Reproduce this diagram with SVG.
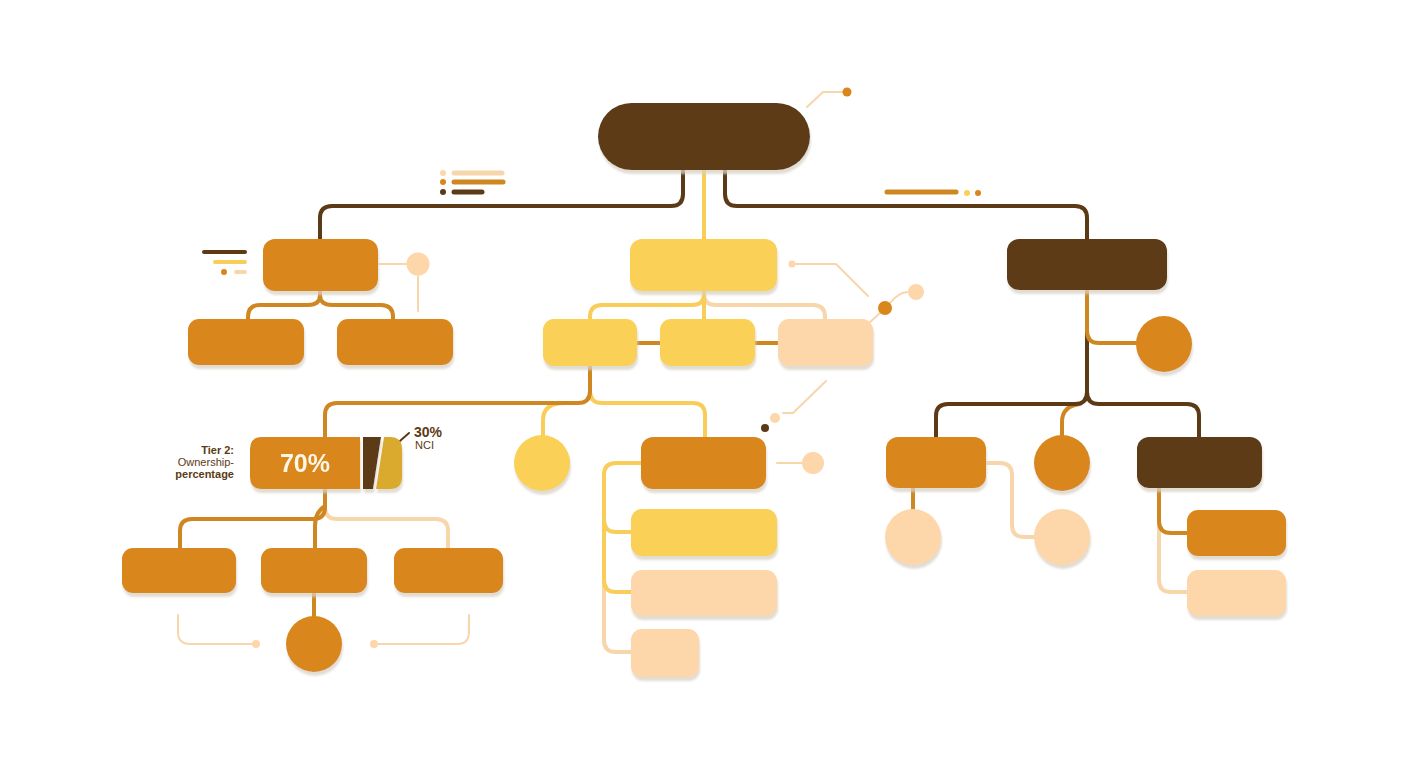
<svg xmlns="http://www.w3.org/2000/svg" width="1408" height="768" viewBox="0 0 1408 768">
<defs>
<filter id="sh" x="-20%" y="-20%" width="140%" height="150%">
<feDropShadow dx="1" dy="4" stdDeviation="0.8" flood-color="#D8D1C4" flood-opacity="0.75"/>
</filter>
<style>
.dk{fill:#5C3A16}.or{fill:#D9861A}.ye{fill:#FBD056}.pe{fill:#FDD6AA}.go{fill:#DAAA2E}
.n{filter:url(#sh)}
.c{fill:none;stroke-width:4;stroke-linecap:round;stroke-linejoin:round}
.t{fill:none;stroke-width:2;stroke-linecap:round;stroke-linejoin:round}
.sdk{stroke:#5C3A16}.sor{stroke:#CF8722}.sye{stroke:#F8CD5A}.spe{stroke:#F8D6AC}
.lg{stroke-width:5;stroke-linecap:round;fill:none}
text{font-family:"Liberation Sans",Arial,sans-serif;fill:#5C3A16}
</style>
</defs>
<rect width="1408" height="768" fill="#FFFFFF"/>

<g id="connectors">
<path class="c sdk" d="M683,168 V194 Q683,206 671,206 H332 Q320,206 320,218 V240"/>
<path class="c sdk" d="M725,168 V194 Q725,206 737,206 H1075 Q1087,206 1087,218 V240"/>
<path class="c sye" d="M704,170 V240"/>
<path class="c sor" d="M320,290 V295 Q320,305 308,305 H260 Q248,305 248,317 V320"/>
<path class="c sor" d="M320,290 V295 Q320,305 332,305 H381 Q393,305 393,317 V320"/>
<path class="c spe" d="M704,290 V294 Q704,305 716,305 H813 Q825,305 825,317 V320"/>
<path class="c sye" d="M704,290 V294 Q704,305 692,305 H602 Q590,305 590,317 V320"/>
<path class="c sye" d="M704,290 V320"/>
<path class="c sor" d="M636,343 H661 M754,343 H779"/>
<path class="c sye" d="M565,403 Q543,403 543,420 V436"/>
<path class="c sye" d="M590,366 V391 Q590,403 602,403 H693 Q705,403 705,415 V438"/>
<path class="c sor" d="M590,366 V391 Q590,403 578,403 H337 Q325,403 325,415 V438"/>
<path class="c spe" d="M325,489 V507 Q325,519 337,519 H436 Q448,519 448,531 V549"/>
<path class="c sor" d="M325,489 V507 Q325,519 313,519 H192 Q180,519 180,531 V549"/>
<path class="c sor" d="M325,489 V506 Q315,512 315,526 V549"/>
<path class="c sor" d="M314,593 V617"/>
<path class="t spe" d="M178,615 V632 Q178,644 190,644 H253"/>
<path class="t spe" d="M377,644 H457 Q469,644 469,632 V615"/>
<path class="c spe" d="M604,580 V640 Q604,652 616,652 H632"/>
<path class="c sye" d="M642,463 H616 Q604,463 604,475 V520 Q604,532 616,532 H632"/>
<path class="c sye" d="M604,518 V580 Q604,592 616,592 H632"/>
<path class="c sor" d="M1080,404 Q1062,406 1062,422 V436"/>
<path class="c sdk" d="M1087,330 V392 Q1087,404 1075,404 H948 Q936,404 936,416 V438"/>
<path class="c sdk" d="M1087,392 Q1087,404 1099,404 H1187 Q1199,404 1199,416 V438"/>
<path class="c sor" d="M1087,290 V331 Q1087,343 1099,343 H1137"/>
<path class="c sor" d="M913,488 V510"/>
<path class="c spe" d="M986,463 H1000 Q1012,463 1012,475 V525 Q1012,537 1024,537 H1035"/>
<path class="c spe" d="M1159,521 V580 Q1159,592 1171,592 H1188"/>
<path class="c sor" d="M1159,488 V521 Q1159,533 1171,533 H1188"/>
<path class="t spe" d="M807,107 L823,92 H843"/>
<path class="t spe" d="M378,264 H407 M418,276 V311"/>
<path class="t spe" d="M795,264 H836 L868,296"/>
<path class="t spe" d="M869,323 L880,313 M890,303 Q898,293 907,292"/>
<path class="t spe" d="M783,413 H793 L826,381"/>
<path class="t spe" d="M777,463 H802"/>
<path class="t sdk" d="M409,433 L392,448"/>
</g>

<g id="decor">
<circle cx="847" cy="92" r="4.5" class="or"/>
<circle cx="443" cy="173" r="3" class="pe"/>
<circle cx="443" cy="182" r="3" class="or"/>
<circle cx="443" cy="192" r="3" class="dk"/>
<path class="lg spe" d="M454,173 H502"/>
<path class="lg sor" d="M454,182 H503"/>
<path class="lg sdk" d="M454,192 H482"/>
<path class="lg sor" d="M887,192 H956"/>
<circle cx="967" cy="193" r="3" class="ye"/>
<circle cx="978" cy="193" r="3" class="or"/>
<path class="lg sdk" d="M204,252 H245" style="stroke-width:4"/>
<path class="lg sye" d="M215,262 H245" style="stroke-width:4"/>
<circle cx="224" cy="272" r="3" class="or"/>
<path class="lg spe" d="M236,272 H245" style="stroke-width:4"/>
<circle cx="418" cy="264" r="11.5" class="pe"/>
<circle cx="792" cy="264" r="3.5" class="pe"/>
<circle cx="885" cy="308" r="7" class="or"/>
<circle cx="916" cy="292" r="8" class="pe"/>
<circle cx="775" cy="418" r="5" class="pe"/>
<circle cx="765" cy="428" r="4" class="dk"/>
<circle cx="813" cy="463" r="11" class="pe"/>
<circle cx="256" cy="644" r="4" class="pe"/>
<circle cx="374" cy="644" r="4" class="pe"/>
</g>

<g id="root" class="n"><rect x="598" y="103" width="212" height="67" rx="33.5" class="dk"/></g>

<g id="l1-left" class="n"><rect x="263" y="239" width="115" height="52" rx="12" class="or"/></g>
<g id="l1-mid" class="n"><rect x="630" y="239" width="147" height="52" rx="12" class="ye"/></g>
<g id="l1-right" class="n"><rect x="1007" y="239" width="160" height="51" rx="12" class="dk"/></g>

<g id="l2-a" class="n"><rect x="188" y="319" width="116" height="46" rx="11" class="or"/></g>
<g id="l2-b" class="n"><rect x="337" y="319" width="116" height="46" rx="11" class="or"/></g>
<g id="l2-c" class="n"><rect x="543" y="319" width="94" height="47" rx="11" class="ye"/></g>
<g id="l2-d" class="n"><rect x="660" y="319" width="95" height="47" rx="11" class="ye"/></g>
<g id="l2-e" class="n"><rect x="778" y="319" width="95" height="47" rx="11" class="pe"/></g>
<g id="l2-circle" class="n"><circle cx="1164" cy="344" r="28" class="or"/></g>

<g id="tier2" class="n">
<path class="or" d="M262,437 H360 V489 H262 Q250,489 250,477 V449 Q250,437 262,437 Z"/>
<path class="dk" d="M363,437 H381 L373,489 H363 Z"/>
<path class="go" d="M384,437 H390 Q402,437 402,449 V477 Q402,489 390,489 H376 Z"/>
<text x="305" y="472" text-anchor="middle" font-size="25" font-weight="bold" style="fill:#FFF6E6">70%</text>
</g>
<g id="tier2-label">
<text x="234" y="454" text-anchor="end" font-size="11" font-weight="bold">Tier 2:</text>
<text x="234" y="466" text-anchor="end" font-size="11">Ownership-</text>
<text x="234" y="478" text-anchor="end" font-size="11" font-weight="bold">percentage</text>
<text x="414" y="437" font-size="14" font-weight="bold">30%</text>
<text x="415" y="449" font-size="11">NCI</text>
</g>

<g id="l3-circle-y" class="n"><circle cx="542" cy="463" r="28" class="ye"/></g>
<g id="l3-mid" class="n"><rect x="641" y="437" width="125" height="52" rx="12" class="or"/></g>
<g id="l3-r1" class="n"><rect x="886" y="437" width="100" height="51" rx="12" class="or"/></g>
<g id="l3-r2" class="n"><circle cx="1062" cy="463" r="28" class="or"/></g>
<g id="l3-r3" class="n"><rect x="1137" y="437" width="125" height="51" rx="12" class="dk"/></g>

<g id="l4-a" class="n"><rect x="122" y="548" width="114" height="45" rx="11" class="or"/></g>
<g id="l4-b" class="n"><rect x="261" y="548" width="106" height="45" rx="11" class="or"/></g>
<g id="l4-c" class="n"><rect x="394" y="548" width="109" height="45" rx="11" class="or"/></g>
<g id="l4-circle" class="n"><circle cx="314" cy="644" r="28" class="or"/></g>

<g id="m-1" class="n"><rect x="631" y="509" width="146" height="47" rx="11" class="ye"/></g>
<g id="m-2" class="n"><rect x="631" y="570" width="146" height="46" rx="11" class="pe"/></g>
<g id="m-3" class="n"><rect x="631" y="629" width="68" height="48" rx="11" class="pe"/></g>

<g id="r-c1" class="n"><circle cx="913" cy="537" r="28" class="pe"/></g>
<g id="r-c2" class="n"><circle cx="1062" cy="537" r="28" class="pe"/></g>
<g id="r-b1" class="n"><rect x="1187" y="510" width="99" height="46" rx="11" class="or"/></g>
<g id="r-b2" class="n"><rect x="1187" y="570" width="99" height="46" rx="11" class="pe"/></g>
</svg>
